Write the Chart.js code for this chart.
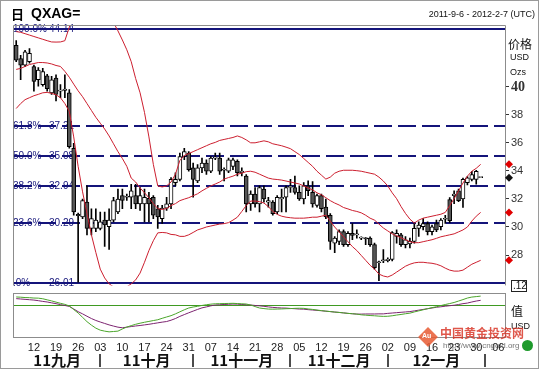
<!DOCTYPE html>
<html lang="zh">
<head>
<meta charset="utf-8">
<title>QXAG</title>
<script src="https://cdn.jsdelivr.net/npm/chart.js@4.4.1/dist/chart.umd.min.js"></script>
<style>
  html, body { margin: 0; padding: 0; background: #fff; }
  #wrap { position: relative; width: 539px; height: 369px; border: 1px solid #9a9a9a; box-sizing: border-box; overflow: hidden; background: #fff; }
  canvas { position: absolute; left: -1px; }
  #priceChart { top: -1px; }
  #oscChart { top: 291px; }
  .txt { position: absolute; white-space: nowrap; }
  #titleDay { left: 10px; top: 3px; font: bold 13px "Noto Sans CJK SC", sans-serif; color: #000; }
  #titleSym { left: 30px; top: 4px; font: bold 14px Arial, "Liberation Sans", sans-serif; color: #000; }
  #range { right: 3px; top: 8px; font: 9px Arial, "Liberation Sans", sans-serif; color: #111; }
  #wmLogo { left: 420px; top: 329px; width: 14px; height: 14px; background: rgba(232, 90, 50, 0.85); transform: rotate(45deg); }
  #wmAu { left: 421px; top: 331px; font: bold 7px Arial, sans-serif; color: #fff; }
  #wmText { left: 439px; top: 323px; font: bold 12px "Noto Sans CJK SC", sans-serif; color: rgba(215, 45, 30, 0.8); }
  #wmUrl { left: 442px; top: 340px; font: 8px Arial, sans-serif; color: rgba(70, 70, 70, 0.75); }
  #wmDot { left: 521px; top: 339px; width: 11px; height: 11px; border-radius: 50%; background: #1e9a2c; }
</style>
</head>
<body>
<div id="wrap">
  <canvas id="priceChart" width="539" height="294"></canvas>
  <canvas id="oscChart" width="539" height="80"></canvas>
  <div class="txt" id="titleDay">日</div>
  <div class="txt" id="titleSym">QXAG=</div>
  <div class="txt" id="range">2011-9-6 - 2012-2-7 (UTC)</div>
  <div class="txt" id="wmLogo"></div>
  <div class="txt" id="wmAu">Au</div>
  <div class="txt" id="wmText">中国黄金投资网</div>
  <div class="txt" id="wmUrl">http://www.cngold.org</div>
  <div class="txt" id="wmDot"></div>
</div>
<script>
// trading days shown on the axis (2011-09-06 .. 2012-02-07)
const days = [
  '09-06','09-07','09-08','09-09','09-12','09-13','09-14','09-15','09-16','09-19','09-20','09-21','09-22','09-23','09-26','09-27','09-28','09-29','09-30',
  '10-03','10-04','10-05','10-06','10-07','10-10','10-11','10-12','10-13','10-14','10-17','10-18','10-19','10-20','10-21','10-24','10-25','10-26','10-27','10-28','10-31',
  '11-01','11-02','11-03','11-04','11-07','11-08','11-09','11-10','11-11','11-14','11-15','11-16','11-17','11-18','11-21','11-22','11-23','11-24','11-25','11-28','11-29','11-30',
  '12-01','12-02','12-05','12-06','12-07','12-08','12-09','12-12','12-13','12-14','12-15','12-16','12-19','12-20','12-21','12-22','12-23','12-26','12-27','12-28','12-29','12-30',
  '01-02','01-03','01-04','01-05','01-06','01-09','01-10','01-11','01-12','01-13','01-16','01-17','01-18','01-19','01-20','01-23','01-24','01-25','01-26','01-27','01-30','01-31',
  '02-01','02-02','02-03','02-06','02-07'
];
const weekTicks = ['09-12','09-19','09-26','10-03','10-10','10-17','10-24','10-31','11-07','11-14','11-21','11-28',
  '12-05','12-12','12-19','12-26','01-02','01-09','01-16','01-23','01-30','02-06'];
const monthNames = ['11九月', '11十月', '11十一月', '11十二月', '12一月'];
const monthStarts = ['10-03', '11-01', '12-01', '01-02', '02-01'];
const priceTicks = [28, 30, 32, 34, 36, 38, 40];

// candles
const open = [42.96,42.03,41.56,41.80,41.45,40.51,40.16,40.80,39.58,40.63,39.70,39.75,39.58,35.62,30.90,30.72,31.77,29.90,29.90,29.90,
  30.49,30.02,30.49,31.07,32.24,32.12,32.12,32.24,31.65,31.65,32.05,32.12,31.30,30.60,31.35,31.65,33.17,33.40,35.03,35.27,
  34.22,33.29,34.22,34.57,33.98,34.92,34.92,34.05,33.98,34.33,34.68,33.87,33.64,31.65,32.35,31.65,32.70,31.77,31.77,31.07,
  32.00,32.12,32.82,32.82,32.47,32.00,32.94,32.47,31.54,32.24,31.42,30.84,28.85,28.97,29.67,28.74,29.55,29.44,29.20,29.20,
  29.20,28.74,27.45,27.57,27.60,27.68,29.32,29.44,28.74,28.80,28.97,29.90,30.02,30.25,29.67,30.25,30.02,30.55,31.95,32.23,
  32.58,32.00,33.16,33.40,33.40,33.52];
const high = [43.31,42.26,42.61,42.73,41.56,41.38,41.33,40.89,40.75,40.86,40.16,40.86,39.81,35.97,31.00,32.00,32.94,31.30,31.30,31.07,
  31.07,31.30,32.12,32.70,32.70,32.35,33.05,33.05,32.82,32.70,32.47,32.24,31.54,31.54,32.12,33.52,33.87,35.27,35.62,35.38,
  34.57,34.45,34.92,34.80,35.03,35.27,35.27,34.22,34.92,34.92,34.80,34.22,33.75,32.59,32.82,32.94,32.94,32.12,31.89,32.24,
  32.70,32.94,33.40,33.64,32.94,33.17,33.29,33.24,32.35,32.35,32.00,30.95,29.32,29.79,29.79,29.67,30.25,29.79,29.30,29.25,
  29.30,28.85,27.57,28.39,27.80,29.67,29.79,29.55,29.32,29.20,30.25,30.37,30.60,30.37,30.14,30.49,30.60,30.84,32.10,32.58,
  32.70,33.50,33.60,33.98,34.05,33.52];
const low = [41.80,40.51,41.45,41.70,39.70,40.05,40.05,39.70,39.46,39.00,39.23,39.23,35.62,30.84,26.06,30.60,29.44,29.44,29.67,29.79,
  28.62,28.39,30.37,30.95,31.30,31.89,31.30,31.30,31.19,30.37,30.37,30.60,29.90,30.25,31.19,31.30,32.94,33.29,34.80,33.98,
  32.12,33.17,33.87,33.75,33.87,34.80,33.75,33.29,33.87,34.10,33.64,33.64,31.07,31.19,31.42,31.07,31.77,31.42,30.84,30.95,
  31.07,31.07,32.47,32.35,31.89,31.65,32.24,31.42,31.42,31.07,30.60,28.39,28.16,28.74,28.62,28.62,29.09,29.20,29.10,28.74,
  28.62,26.99,26.17,27.45,27.50,27.57,28.85,28.62,28.50,28.50,28.85,29.32,29.79,29.44,29.44,29.67,29.79,30.25,30.30,31.67,
  31.80,31.40,33.00,33.28,33.05,33.52];
const close = [41.91,41.56,42.50,42.40,40.40,41.21,41.10,39.88,40.51,39.46,39.75,39.85,35.73,31.07,30.80,31.89,29.90,30.60,30.49,30.37,
  30.14,30.49,31.89,32.00,31.89,32.18,32.59,31.65,32.24,32.12,31.65,30.84,30.72,31.35,31.65,33.40,33.40,35.03,35.38,34.10,
  33.40,34.22,34.57,33.98,34.92,34.95,33.98,34.10,34.80,34.80,33.87,34.00,31.65,32.35,31.65,32.82,32.00,31.89,30.95,32.12,
  32.12,32.82,32.90,32.47,32.00,32.94,32.59,31.65,32.24,31.30,30.72,28.97,29.20,29.67,28.74,29.55,29.40,29.50,29.20,29.15,
  28.74,27.10,27.50,27.65,27.70,29.60,29.55,28.74,29.09,28.97,29.90,30.14,30.25,29.67,30.02,29.79,30.49,30.60,30.45,32.35,
  31.88,33.40,33.51,33.75,33.98,33.52];

// bollinger bands
const bbUpper = [43.95,43.90,43.80,43.70,43.60,43.50,43.40,43.30,43.21,43.20,43.21,43.30,44.26,45.20,45.90,46.40,46.80,47.00,46.90,46.40,
  45.80,45.20,44.60,44.00,43.35,42.65,41.80,40.60,39.58,38.18,36.43,34.47,32.93,32.86,32.93,33.21,33.77,34.75,35.10,35.24,
  35.38,35.52,35.66,35.80,35.94,36.04,36.18,36.25,36.32,36.39,36.50,36.39,36.22,36.01,36.01,36.08,36.15,36.08,35.94,35.87,
  35.80,35.70,35.59,35.38,35.17,34.89,34.61,34.33,33.98,33.70,33.42,33.56,33.84,33.98,34.05,34.05,34.05,34.02,33.98,33.91,
  33.84,33.77,33.56,33.28,32.93,32.44,32.02,31.46,30.97,30.56,30.28,30.49,30.63,30.70,30.77,30.84,30.91,31.04,31.53,32.02,
  32.58,33.14,33.63,33.98,34.19,34.47];
const bbMiddle = [41.25,41.32,41.46,41.60,41.67,41.74,41.74,41.71,41.64,41.53,41.46,41.11,40.69,40.20,39.72,39.30,38.81,38.32,37.83,37.41,
  36.99,36.50,35.94,35.38,34.89,34.33,33.49,33.21,32.79,32.44,32.09,31.67,31.32,31.25,31.32,31.53,31.67,31.88,31.99,32.09,
  32.23,32.37,32.58,32.76,32.93,33.07,33.21,33.42,33.53,33.63,33.77,33.84,33.95,33.98,33.91,33.77,33.63,33.49,33.42,33.39,
  33.35,33.28,33.21,33.14,33.07,32.93,32.79,32.65,32.44,32.30,32.09,31.88,31.71,31.57,31.39,31.29,31.18,31.11,31.01,30.84,
  30.63,30.49,30.21,29.93,29.72,29.51,29.37,29.23,29.09,28.95,28.88,28.88,28.95,29.02,29.09,29.19,29.30,29.37,29.44,29.51,
  29.65,29.79,30.00,30.42,30.77,31.04];
const bbLower = [38.46,38.81,39.09,39.23,39.37,39.47,39.58,39.61,39.54,39.44,39.23,38.81,38.25,36.43,34.33,32.51,30.97,29.44,28.18,26.99,
  26.36,25.94,25.73,25.66,25.66,25.73,25.94,26.22,26.71,27.48,28.32,29.02,29.58,29.61,29.58,29.47,29.44,29.33,29.33,29.44,
  29.61,29.79,29.89,30.00,30.07,30.14,30.21,30.24,30.31,30.49,30.70,31.11,31.53,31.85,31.85,31.81,31.71,31.46,31.11,30.90,
  30.77,30.70,30.66,30.63,30.63,30.63,30.66,30.70,30.70,30.77,30.84,30.42,30.00,29.65,29.30,28.95,28.60,28.32,27.97,27.62,
  27.27,26.99,26.64,26.50,26.43,26.57,26.78,26.99,27.20,27.34,27.44,27.48,27.48,27.44,27.41,27.34,27.23,27.06,26.92,26.85,
  26.85,26.92,27.13,27.34,27.48,27.62];

// fibonacci retracement
const fibPercent = ['100.0%', '61.8%', '50.0%', '38.2%', '23.6%', '.0%'];
const fibLevels = [44.14, 37.21, 35.08, 32.94, 30.29, 26.01];

// lower panel
const oscFast = [0.67,0.65,0.62,0.61,0.58,0.57,0.52,0.43,0.34,0.24,0.14,0.05,-0.08,-0.38,-0.67,-1.03,-1.39,-1.68,-1.93,-2.10,
  -2.18,-2.24,-2.21,-2.18,-2.00,-1.84,-1.72,-1.61,-1.52,-1.44,-1.37,-1.30,-1.23,-1.11,-1.00,-0.89,-0.74,-0.57,-0.40,-0.25,
  -0.17,-0.11,-0.04,0.02,0.07,0.10,0.11,0.12,0.13,0.14,0.12,0.10,0.08,0.00,-0.13,-0.25,-0.30,-0.34,-0.35,-0.34,
  -0.33,-0.31,-0.30,-0.28,-0.27,-0.28,-0.33,-0.37,-0.42,-0.47,-0.51,-0.55,-0.59,-0.62,-0.66,-0.70,-0.73,-0.76,-0.82,-0.85,
  -0.88,-0.90,-0.93,-0.95,-0.94,-0.90,-0.84,-0.79,-0.73,-0.68,-0.58,-0.49,-0.40,-0.31,-0.22,-0.15,-0.05,0.04,0.12,0.21,
  0.33,0.45,0.58,0.66,0.70,0.74];
const oscSlow = [0.53,0.50,0.47,0.44,0.41,0.36,0.30,0.25,0.18,0.11,0.03,-0.04,-0.12,-0.33,-0.56,-0.74,-0.94,-1.13,-1.29,-1.42,
  -1.54,-1.66,-1.76,-1.85,-1.90,-1.85,-1.80,-1.75,-1.71,-1.66,-1.61,-1.55,-1.49,-1.43,-1.38,-1.27,-1.13,-0.95,-0.80,-0.65,
  -0.51,-0.37,-0.24,-0.16,-0.07,0.00,0.02,0.04,0.06,0.08,0.07,0.04,0.02,0.00,-0.04,-0.07,-0.11,-0.16,-0.20,-0.23,
  -0.25,-0.26,-0.29,-0.31,-0.34,-0.35,-0.39,-0.42,-0.45,-0.48,-0.52,-0.55,-0.59,-0.62,-0.66,-0.70,-0.73,-0.76,-0.76,-0.75,
  -0.75,-0.75,-0.74,-0.74,-0.70,-0.67,-0.64,-0.61,-0.58,-0.55,-0.49,-0.43,-0.37,-0.31,-0.25,-0.19,-0.15,-0.10,-0.06,-0.02,
  0.04,0.11,0.16,0.25,0.33,0.39];

const FONT = 'Arial, "Liberation Sans", sans-serif';
const CJK = '"Noto Sans CJK SC", sans-serif';
const frameColor = '#8c8c8c';
const fibColor = '#14147a';
const bandColor = '#cc1f2f';
Chart.defaults.font.family = FONT;

const bodies = open.map((o, i) => [Math.min(o, close[i]), Math.max(o, close[i])]);
const wicks = low.map((l, i) => [l, high[i]]);

function diamond(ctx, x, y, r, color) {
  ctx.fillStyle = color;
  ctx.beginPath();
  ctx.moveTo(x, y - r); ctx.lineTo(x + r, y); ctx.lineTo(x, y + r); ctx.lineTo(x - r, y);
  ctx.closePath();
  ctx.fill();
}

const priceDecor = {
  id: 'priceDecor',
  beforeDatasetsDraw(chart) {
    const { ctx, chartArea: a, scales: { y } } = chart;
    ctx.save();
    ctx.strokeStyle = fibColor;
    ctx.lineWidth = 2;
    fibLevels.forEach((v, i) => {
      const py = Math.round(y.getPixelForValue(v));
      ctx.setLineDash(i === 0 || i === fibLevels.length - 1 ? [] : [18, 6]);
      ctx.beginPath();
      ctx.moveTo(a.left, py);
      ctx.lineTo(a.right, py);
      ctx.stroke();
    });
    ctx.setLineDash([]);
    ctx.fillStyle = fibColor;
    ctx.font = '10px ' + FONT;
    ctx.textBaseline = 'middle';
    fibLevels.forEach((v, i) => {
      const py = Math.round(y.getPixelForValue(v));
      ctx.fillText(fibPercent[i], a.left - 1, py);
      ctx.fillText(v.toFixed(2), a.left + 35, py);
    });
    ctx.restore();
  },
  afterDraw(chart) {
    const { ctx, chartArea: a, scales: { y } } = chart;
    ctx.save();
    ctx.strokeStyle = frameColor;
    ctx.lineWidth = 1;
    ctx.beginPath();
    ctx.moveTo(a.left - 0.5, a.bottom);
    ctx.lineTo(a.left - 0.5, a.top + 0.5);
    ctx.lineTo(a.right + 0.5, a.top + 0.5);
    ctx.lineTo(a.right + 0.5, a.bottom);
    ctx.stroke();

    ctx.fillStyle = '#111';
    ctx.textBaseline = 'middle';
    ctx.font = '12px ' + CJK;
    ctx.fillText('价格', a.right + 3, 44);
    ctx.font = '9px ' + FONT;
    ctx.fillText('USD', a.right + 5, 58);
    ctx.fillText('Ozs', a.right + 5, 73);

    ctx.strokeStyle = '#222';
    ctx.strokeRect(a.right + 6.5, 280.5, 15, 11);
    ctx.font = '10px ' + FONT;
    ctx.fillText('.12', a.right + 8, 286.5);

    const last = bbUpper.length - 1;
    [bbUpper[last], bbMiddle[last], bbLower[last]].forEach(v =>
      diamond(ctx, a.right + 4, y.getPixelForValue(v), 4, '#e00000'));
    diamond(ctx, a.right + 4, y.getPixelForValue(close[close.length - 1]), 4, '#111');
    ctx.restore();
  }
};

const oscDecor = {
  id: 'oscDecor',
  beforeDatasetsDraw(chart) {
    const { ctx, chartArea: a, scales: { y } } = chart;
    const py = Math.round(y.getPixelForValue(0)) + 0.5;
    ctx.save();
    ctx.strokeStyle = '#3f9a22';
    ctx.lineWidth = 1;
    ctx.beginPath();
    ctx.moveTo(a.left, py);
    ctx.lineTo(a.right, py);
    ctx.stroke();
    ctx.restore();
  },
  afterDraw(chart) {
    const { ctx, chartArea: a, scales: { x } } = chart;
    ctx.save();
    ctx.strokeStyle = frameColor;
    ctx.lineWidth = 1;
    ctx.strokeRect(a.left - 0.5, a.top + 0.5, a.right - a.left + 1, a.bottom - a.top);

    ctx.fillStyle = '#111';
    ctx.textBaseline = 'middle';
    ctx.font = '12px ' + CJK;
    ctx.fillText('值', a.right + 6, 19);
    ctx.font = '9px ' + FONT;
    ctx.fillText('USD', a.right + 6, 35);

    const seps = monthStarts.map(d => x.getPixelForValue(days.indexOf(d)));
    const edges = [a.left].concat(seps);
    ctx.font = 'bold 15px ' + CJK;
    ctx.textAlign = 'center';
    monthNames.forEach((m, i) => ctx.fillText(m, (edges[i] + edges[i + 1]) / 2, 68));
    ctx.strokeStyle = '#111';
    ctx.lineWidth = 1.5;
    seps.forEach(sx => {
      ctx.beginPath();
      ctx.moveTo(Math.round(sx), 62);
      ctx.lineTo(Math.round(sx), 75);
      ctx.stroke();
    });
    ctx.restore();
  }
};

new Chart(document.getElementById('priceChart'), {
  type: 'bar',
  data: {
    labels: days,
    datasets: [
      { type: 'line', label: 'BB upper', data: bbUpper, borderColor: bandColor, borderWidth: 1, pointRadius: 0, order: 1 },
      { type: 'line', label: 'BB middle', data: bbMiddle, borderColor: bandColor, borderWidth: 1, pointRadius: 0, order: 1 },
      { type: 'line', label: 'BB lower', data: bbLower, borderColor: bandColor, borderWidth: 1, pointRadius: 0, order: 1 },
      {
        label: 'body', data: bodies, grouped: false, barThickness: 4, minBarLength: 1, order: 2,
        backgroundColor: c => close[c.dataIndex] >= open[c.dataIndex] ? '#ffffff' : '#555555',
        borderColor: '#000', borderWidth: 1, borderSkipped: false
      },
      { label: 'wick', data: wicks, grouped: false, barThickness: 1, order: 3, backgroundColor: '#000', borderWidth: 0 }
    ]
  },
  options: {
    responsive: false,
    animation: false,
    devicePixelRatio: 1,
    events: [],
    layout: { padding: { left: 14, top: 25, right: 0, bottom: 1 } },
    plugins: { legend: { display: false }, tooltip: { enabled: false } },
    scales: {
      x: { display: false, offset: true, grid: { display: false } },
      y: {
        position: 'right', min: 25.83, max: 44.42,
        afterFit: s => { s.width = 34; },
        afterBuildTicks: s => { s.ticks = priceTicks.map(v => ({ value: v })); },
        grid: { drawOnChartArea: false, drawTicks: true, tickLength: 4, color: '#333' },
        border: { display: false },
        ticks: {
          padding: 2, color: '#333',
          font: c => c.tick && c.tick.value === 40
            ? { family: '"Liberation Serif", serif', size: 14, weight: 'bold' }
            : { family: FONT, size: 11 }
        }
      }
    }
  },
  plugins: [priceDecor]
});

new Chart(document.getElementById('oscChart'), {
  type: 'line',
  data: {
    labels: days,
    datasets: [
      { label: 'fast', data: oscFast, borderColor: '#4aa52a', borderWidth: 1, pointRadius: 0 },
      { label: 'slow', data: oscSlow, borderColor: '#7c2470', borderWidth: 1, pointRadius: 0 }
    ]
  },
  options: {
    responsive: false,
    animation: false,
    devicePixelRatio: 1,
    events: [],
    layout: { padding: { left: 14, top: 1, right: 0, bottom: 0 } },
    plugins: { legend: { display: false }, tooltip: { enabled: false } },
    scales: {
      x: {
        offset: true,
        afterFit: s => { s.height = 35; },
        grid: { display: false, drawTicks: false },
        border: { display: false },
        ticks: {
          autoSkip: false, maxRotation: 0, padding: 4, color: '#222', font: { family: FONT, size: 11 },
          callback: v => weekTicks.includes(days[v]) ? days[v].slice(3) : ''
        }
      },
      y: {
        position: 'right', min: -2.67, max: 1.0,
        afterFit: s => { s.width = 34; },
        ticks: { display: false },
        grid: { display: false },
        border: { display: false }
      }
    }
  },
  plugins: [oscDecor]
});
</script>
</body>
</html>
